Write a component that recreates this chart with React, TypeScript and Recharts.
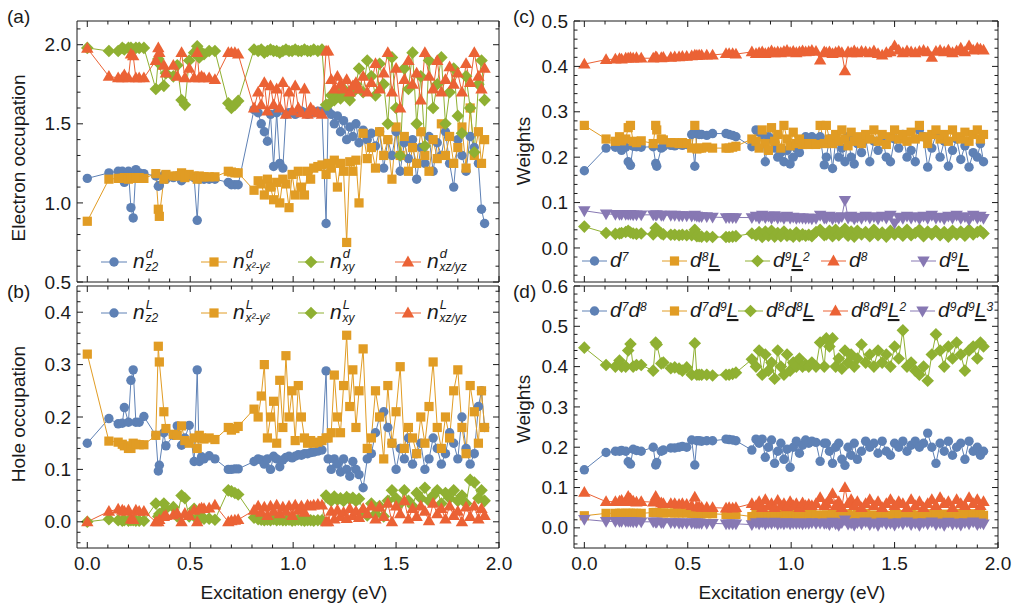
import React from 'react'
import { LineChart, Line, XAxis, YAxis } from 'recharts'

const W = 1014
const H = 608
const FONT = "'Liberation Sans', Arial, Helvetica, sans-serif"
const INK = '#1a1a1a'

const BLUE = '#5E81B5'
const ORANGE = '#E19C24'
const GREEN = '#8FB032'
const RED = '#EB6235'
const PURPLE = '#8778B3'

// excitation energies (eV) of the states, shared by all four panels
const energies = [
  0.0, 0.105, 0.15, 0.17, 0.18, 0.2, 0.212, 0.223, 0.236, 0.252, 0.275, 0.333, 0.345, 0.35, 0.372, 0.382, 0.418, 0.437, 0.458, 0.474, 0.495, 0.519, 0.534, 0.544, 0.555, 0.567, 0.592, 0.62, 0.685, 0.7, 0.717, 0.733,
  0.81, 0.83, 0.845, 0.86, 0.875, 0.89, 0.905, 0.92, 0.935, 0.95, 0.965, 0.98, 0.995, 1.01, 1.025, 1.04, 1.055, 1.07, 1.085, 1.1, 1.12, 1.14, 1.16,
  1.17, 1.185, 1.2, 1.215, 1.23, 1.245, 1.26, 1.275, 1.29, 1.305, 1.32, 1.34, 1.36, 1.38, 1.4, 1.42, 1.44, 1.46, 1.48, 1.5, 1.52, 1.54, 1.56, 1.58, 1.6, 1.62, 1.64, 1.66, 1.68, 1.7, 1.72, 1.74, 1.76, 1.78, 1.8, 1.82, 1.84, 1.86, 1.88, 1.9, 1.915, 1.93,
]

// (a) electron occupation
const nZ2d = [
  1.155, 1.19, 1.2, 1.2, 1.13, 1.2, 0.97, 0.905, 1.21, 1.19, 1.185, 1.17, 1.105, 1.11, 1.175, 1.15, 1.16, 1.17, 1.14, 1.16, 1.17, 1.16, 0.89, 1.15, 1.16, 1.15, 1.15, 1.15, 1.13, 1.115, 1.115, 1.115,
  1.59, 1.57, 1.5, 1.45, 1.39, 1.56, 1.23, 1.57, 1.25, 1.22, 1.56, 1.57, 1.57, 1.56, 1.57, 1.58, 1.57, 1.56, 1.58, 1.57, 1.58, 1.58, 0.87,
  1.58, 1.56, 1.5, 1.55, 1.45, 1.52, 1.4, 1.48, 1.42, 1.5, 1.38, 1.46, 1.4, 1.44, 1.36, 1.45, 1.22, 1.4, 1.3, 1.45, 1.2, 1.38, 1.28, 1.4, 1.15, 1.35, 1.25, 1.42, 1.2, 1.38, 1.3, 1.45, 1.25, 1.1, 1.4, 1.3, 1.2, 1.42, 1.35, 1.25, 0.96, 0.87,
]
const nX2d = [
  0.884, 1.15, 1.155, 1.155, 1.16, 1.15, 1.155, 1.16, 1.155, 1.16, 1.155, 1.185, 0.96, 0.915, 1.15, 1.18, 1.17, 1.17, 1.19, 1.16, 1.18, 1.17, 1.15, 1.17, 1.165, 1.165, 1.165, 1.165, 1.2, 1.195, 1.19, 1.19,
  1.08, 1.14, 1.12, 1.05, 1.15, 1.1, 1.02, 1.13, 1.0, 1.15, 1.12, 0.97, 1.18, 1.05, 1.2, 1.1, 1.05, 1.2, 1.15, 1.22, 1.23, 1.24, 1.18,
  1.25, 1.22, 1.27, 1.1, 1.25, 1.2, 0.75, 1.26, 1.2, 1.27, 1.0, 1.44, 1.28, 1.35, 1.22, 1.45, 1.3, 1.4, 1.15, 1.48, 1.3, 1.42, 1.2, 1.35, 1.25, 1.45, 1.3, 1.2, 1.4, 1.28, 1.5, 1.3, 1.42, 1.25, 1.35, 1.48, 1.22, 1.6, 1.3, 1.45, 1.25, 1.4,
]
const nXYd = [
  1.98, 1.96, 1.96, 1.98, 1.97, 1.98, 1.98, 1.97, 1.98, 1.98, 1.98, 1.72, 1.91, 1.88, 1.74, 1.82, 1.8, 1.87, 1.65, 1.62, 1.9, 1.95, 1.99, 1.92, 1.95, 1.94, 1.96, 1.96, 1.63, 1.6, 1.62, 1.645,
  1.97, 1.96, 1.97, 1.95, 1.96, 1.97, 1.96, 1.96, 1.95, 1.96, 1.97, 1.96, 1.96, 1.97, 1.96, 1.96, 1.97, 1.96, 1.96, 1.97, 1.96, 1.97, 1.62,
  1.62, 1.68, 1.65, 1.7, 1.66, 1.72, 1.68, 1.65, 1.7, 1.75, 1.85, 1.7, 1.9, 1.8, 1.68, 1.88, 1.75, 1.5, 1.92, 1.6, 1.3, 1.85, 1.72, 1.95, 1.5, 1.8, 1.36, 1.9, 1.6, 1.75, 1.92, 1.5, 1.7, 1.85, 1.55, 1.44, 1.8, 1.6, 1.32, 1.75, 1.9, 1.65,
]
const nXZd = [
  1.977, 1.8, 1.79, 1.79, 1.81, 1.79, 1.94, 1.93, 1.79, 1.79, 1.79, 1.9, 1.98, 1.95, 1.87, 1.82, 1.87, 1.8, 1.95, 1.79, 1.85, 1.79, 1.95, 1.79, 1.8, 1.79, 1.79, 1.78, 1.95, 1.95, 1.95, 1.94,
  1.6, 1.7, 1.62, 1.76, 1.58, 1.74, 1.62, 1.72, 1.6, 1.76, 1.56, 1.7, 1.58, 1.74, 1.6, 1.57, 1.72, 1.56, 1.6, 1.58, 1.57, 1.56, 1.96,
  1.96, 1.78, 1.72, 1.8, 1.75, 1.72, 1.78, 1.7, 1.74, 1.76, 1.72, 1.8, 1.7, 1.76, 1.88, 1.72, 1.82, 1.95, 1.7, 1.85, 1.6, 1.78, 1.9, 1.75, 1.82, 1.65, 1.95, 1.8, 1.72, 1.9, 1.7, 1.78, 1.86, 1.75, 1.82, 1.7, 1.88, 1.76, 1.95, 1.8, 1.72, 1.85,
]

// (b) hole occupation
const nZ2L = [
  0.15, 0.197, 0.187, 0.188, 0.218, 0.19, 0.27, 0.29, 0.19, 0.19, 0.201, 0.165, 0.097, 0.108, 0.17, 0.145, 0.165, 0.183, 0.146, 0.16, 0.184, 0.115, 0.29, 0.115, 0.124, 0.12, 0.126, 0.12, 0.1, 0.1, 0.101, 0.101,
  0.115, 0.12, 0.118, 0.11, 0.12, 0.1, 0.125, 0.12, 0.105, 0.118, 0.123, 0.125, 0.122, 0.125, 0.128, 0.127, 0.13, 0.13, 0.132, 0.133, 0.135, 0.137, 0.288,
  0.12, 0.1, 0.12, 0.11, 0.095, 0.12, 0.1, 0.087, 0.115, 0.1, 0.09, 0.065, 0.12, 0.13, 0.17, 0.2, 0.21, 0.18, 0.15, 0.1, 0.14, 0.12, 0.16, 0.11, 0.13, 0.15, 0.1, 0.12, 0.16, 0.14, 0.11, 0.13, 0.17, 0.15, 0.12, 0.2, 0.14, 0.11, 0.13, 0.22, 0.25, 0.18,
]
const nX2L = [
  0.32, 0.154, 0.152, 0.148, 0.145, 0.14, 0.14, 0.15, 0.148, 0.147, 0.147, 0.165, 0.335, 0.305, 0.21, 0.178, 0.167, 0.165, 0.183, 0.155, 0.15, 0.16, 0.14, 0.165, 0.16, 0.158, 0.16, 0.157, 0.18, 0.175, 0.178, 0.182,
  0.215, 0.2, 0.24, 0.3, 0.16, 0.2, 0.23, 0.15, 0.27, 0.18, 0.317, 0.2, 0.25, 0.155, 0.26, 0.2, 0.16, 0.15, 0.155, 0.15, 0.152, 0.155, 0.16,
  0.16, 0.17, 0.28, 0.2, 0.17, 0.26, 0.356, 0.22, 0.29, 0.18, 0.25, 0.33, 0.14, 0.16, 0.25, 0.2, 0.12, 0.26, 0.15, 0.21, 0.296, 0.14, 0.18, 0.16, 0.13, 0.2, 0.15, 0.22, 0.305, 0.18, 0.14, 0.2, 0.16, 0.25, 0.29, 0.18, 0.13, 0.26, 0.21, 0.15, 0.25, 0.18,
]
const nXYL = [
  0.0, 0.005, 0.003, 0.002, 0.003, 0.002, 0.003, 0.003, 0.002, 0.002, 0.002, 0.035, 0.01, 0.015, 0.035, 0.025, 0.028, 0.01, 0.05, 0.045, 0.01, 0.025, 0.005, 0.01, 0.008, 0.006, 0.006, 0.004, 0.06, 0.058, 0.055, 0.052,
  0.008, 0.005, 0.004, 0.003, 0.004, 0.003, 0.005, 0.003, 0.004, 0.003, 0.003, 0.004, 0.002, 0.003, 0.004, 0.003, 0.002, 0.003, 0.003, 0.002, 0.003, 0.003, 0.05,
  0.045, 0.04, 0.048, 0.042, 0.045, 0.04, 0.047, 0.043, 0.046, 0.04, 0.044, 0.02, 0.012, 0.035, 0.015, 0.03, 0.01, 0.04, 0.06, 0.045, 0.035, 0.06, 0.04, 0.03, 0.055, 0.045, 0.065, 0.04, 0.05, 0.06, 0.035, 0.055, 0.045, 0.06, 0.04, 0.05, 0.035, 0.08, 0.075, 0.045, 0.06, 0.04,
]
const nXZL = [
  0.0, 0.02, 0.024, 0.022, 0.02, 0.022, 0.005, 0.004, 0.022, 0.02, 0.02, 0.0, 0.0, 0.004, 0.01, 0.012, 0.013, 0.016, 0.0, 0.016, 0.012, 0.022, 0.0, 0.024, 0.026, 0.025, 0.026, 0.032, 0.0, 0.002, 0.003, 0.004,
  0.022, 0.03, 0.018, 0.028, 0.012, 0.03, 0.02, 0.032, 0.015, 0.028, 0.02, 0.03, 0.012, 0.032, 0.022, 0.03, 0.018, 0.032, 0.03, 0.032, 0.033, 0.032, 0.0,
  0.0, 0.02, 0.005, 0.022, 0.01, 0.018, 0.006, 0.025, 0.012, 0.02, 0.008, 0.025, 0.015, 0.03, 0.005, 0.028, 0.01, 0.035, 0.0, 0.03, 0.015, 0.04, 0.005, 0.025, 0.01, 0.03, 0.02, 0.002, 0.035, 0.015, 0.025, 0.005, 0.03, 0.012, 0.02, 0.0, 0.028, 0.01, 0.03, 0.005, 0.025, 0.012,
]

// (c) single-site weights
const wD7 = [
  0.17, 0.22, 0.222, 0.225, 0.215, 0.222, 0.19, 0.182, 0.224, 0.223, 0.222, 0.223, 0.186, 0.18, 0.22, 0.223, 0.226, 0.225, 0.228, 0.226, 0.228, 0.25, 0.18, 0.252, 0.25, 0.25, 0.248, 0.252, 0.252, 0.25, 0.248, 0.245,
  0.223, 0.26, 0.255, 0.25, 0.19, 0.245, 0.24, 0.22, 0.2, 0.21, 0.19, 0.215, 0.185, 0.2, 0.22, 0.21, 0.23, 0.245, 0.24, 0.245, 0.24, 0.245, 0.183,
  0.2, 0.24, 0.175, 0.235, 0.2, 0.22, 0.19, 0.245, 0.2, 0.185, 0.23, 0.21, 0.24, 0.19, 0.235, 0.215, 0.245, 0.2, 0.19, 0.24, 0.22, 0.25, 0.2, 0.215, 0.19, 0.26, 0.245, 0.178, 0.22, 0.25, 0.2, 0.235, 0.18, 0.215, 0.24, 0.195, 0.225, 0.178, 0.21, 0.2, 0.23, 0.19,
]
const wD8L = [
  0.27, 0.24, 0.235, 0.245, 0.236, 0.24, 0.265, 0.27, 0.235, 0.232, 0.236, 0.23, 0.27, 0.26, 0.24, 0.238, 0.232, 0.232, 0.23, 0.232, 0.23, 0.22, 0.27, 0.218, 0.22, 0.22, 0.222, 0.22, 0.22, 0.22, 0.222, 0.224,
  0.24, 0.235, 0.22, 0.26, 0.23, 0.215, 0.265, 0.235, 0.25, 0.22, 0.27, 0.24, 0.225, 0.255, 0.23, 0.24, 0.228, 0.23, 0.228, 0.23, 0.228, 0.27, 0.23,
  0.27, 0.24, 0.23, 0.25, 0.235, 0.26, 0.24, 0.225, 0.255, 0.235, 0.245, 0.23, 0.25, 0.24, 0.26, 0.235, 0.25, 0.228, 0.245, 0.26, 0.24, 0.25, 0.235, 0.255, 0.24, 0.27, 0.245, 0.23, 0.25, 0.26, 0.24, 0.25, 0.235, 0.26, 0.245, 0.24, 0.255, 0.235, 0.25, 0.26, 0.24, 0.25,
]
const wD9L2 = [
  0.047, 0.033, 0.031, 0.032, 0.033, 0.035, 0.038, 0.034, 0.032, 0.031, 0.032, 0.03, 0.044, 0.038, 0.032, 0.03, 0.029, 0.029, 0.028, 0.029, 0.028, 0.028, 0.04, 0.026, 0.026, 0.025, 0.025, 0.024, 0.024, 0.024, 0.025, 0.026,
  0.032, 0.028, 0.035, 0.024, 0.036, 0.027, 0.038, 0.025, 0.033, 0.026, 0.036, 0.027, 0.03, 0.025, 0.034, 0.026, 0.03, 0.027, 0.029, 0.026, 0.035, 0.04, 0.028,
  0.03, 0.038, 0.026, 0.04, 0.028, 0.035, 0.042, 0.027, 0.036, 0.025, 0.038, 0.03, 0.035, 0.026, 0.04, 0.028, 0.034, 0.025, 0.038, 0.03, 0.036, 0.027, 0.04, 0.028, 0.033, 0.04, 0.026, 0.036, 0.03, 0.038, 0.028, 0.035, 0.025, 0.038, 0.03, 0.036, 0.027, 0.04, 0.03, 0.035, 0.038, 0.032,
]
const wD8 = [
  0.405, 0.415, 0.416, 0.417, 0.416, 0.418, 0.418, 0.419, 0.418, 0.419, 0.418, 0.418, 0.421, 0.42, 0.419, 0.42, 0.42, 0.421, 0.421, 0.422, 0.422, 0.423, 0.425, 0.424, 0.425, 0.425, 0.425, 0.425, 0.428, 0.428, 0.428, 0.427,
  0.432, 0.428, 0.43, 0.432, 0.428, 0.43, 0.434, 0.43, 0.432, 0.43, 0.433, 0.435, 0.431, 0.433, 0.43, 0.432, 0.434, 0.432, 0.433, 0.435, 0.433, 0.414, 0.432,
  0.43, 0.432, 0.428, 0.431, 0.433, 0.43, 0.39, 0.432, 0.43, 0.434, 0.43, 0.433, 0.432, 0.43, 0.434, 0.428, 0.425, 0.43, 0.432, 0.445, 0.436, 0.43, 0.434, 0.432, 0.43, 0.433, 0.435, 0.432, 0.42, 0.433, 0.435, 0.432, 0.436, 0.43, 0.434, 0.44, 0.432, 0.445, 0.436, 0.44, 0.438, 0.436,
]
const wD9L = [
  0.082, 0.075, 0.074, 0.074, 0.074, 0.074, 0.074, 0.074, 0.073, 0.073, 0.073, 0.073, 0.073, 0.073, 0.072, 0.072, 0.072, 0.072, 0.071, 0.071, 0.071, 0.07, 0.072, 0.07, 0.069, 0.069, 0.069, 0.068, 0.067, 0.067, 0.067, 0.067,
  0.067, 0.07, 0.066, 0.072, 0.067, 0.07, 0.065, 0.071, 0.066, 0.069, 0.065, 0.07, 0.066, 0.068, 0.065, 0.067, 0.066, 0.065, 0.066, 0.064, 0.065, 0.072, 0.066,
  0.066, 0.07, 0.064, 0.068, 0.065, 0.069, 0.105, 0.066, 0.07, 0.064, 0.068, 0.065, 0.07, 0.066, 0.069, 0.064, 0.07, 0.066, 0.072, 0.055, 0.068, 0.065, 0.07, 0.066, 0.069, 0.064, 0.07, 0.065, 0.072, 0.066, 0.068, 0.064, 0.07, 0.066, 0.072, 0.065, 0.069, 0.062, 0.072, 0.066, 0.07, 0.065,
]

// (d) two-site weights
const wD7D8 = [
  0.144, 0.187, 0.19, 0.19, 0.192, 0.19, 0.164, 0.158, 0.195, 0.192, 0.19, 0.2, 0.156, 0.162, 0.19, 0.193, 0.198, 0.198, 0.2, 0.202, 0.2, 0.218, 0.156, 0.216, 0.216, 0.215, 0.216, 0.216, 0.22, 0.219, 0.218, 0.216,
  0.193, 0.22, 0.21, 0.22, 0.175, 0.2, 0.218, 0.16, 0.19, 0.21, 0.17, 0.195, 0.15, 0.2, 0.215, 0.185, 0.205, 0.218, 0.21, 0.215, 0.212, 0.165, 0.21,
  0.21, 0.19, 0.16, 0.2, 0.21, 0.17, 0.155, 0.2, 0.18, 0.21, 0.17, 0.19, 0.215, 0.2, 0.21, 0.185, 0.215, 0.19, 0.18, 0.21, 0.2, 0.215, 0.19, 0.205, 0.215, 0.2, 0.21, 0.235, 0.2, 0.16, 0.21, 0.19, 0.215, 0.18, 0.2, 0.21, 0.17, 0.215, 0.19, 0.2, 0.18, 0.19,
]
const wD7D9L = [
  0.03, 0.036, 0.036, 0.036, 0.036, 0.036, 0.036, 0.036, 0.036, 0.036, 0.036, 0.038, 0.038, 0.038, 0.037, 0.037, 0.037, 0.037, 0.037, 0.037, 0.037, 0.036, 0.036, 0.035, 0.035, 0.035, 0.035, 0.035, 0.033, 0.033, 0.033, 0.033,
  0.028, 0.034, 0.03, 0.033, 0.029, 0.032, 0.03, 0.034, 0.029, 0.033, 0.03, 0.032, 0.031, 0.034, 0.03, 0.032, 0.031, 0.033, 0.032, 0.033, 0.032, 0.03, 0.032,
  0.032, 0.028, 0.034, 0.03, 0.026, 0.033, 0.029, 0.035, 0.03, 0.027, 0.033, 0.03, 0.036, 0.028, 0.032, 0.03, 0.035, 0.027, 0.031, 0.034, 0.029, 0.033, 0.03, 0.036, 0.028, 0.032, 0.03, 0.035, 0.027, 0.033, 0.03, 0.034, 0.029, 0.032, 0.036, 0.03, 0.033, 0.028, 0.035, 0.03, 0.033, 0.031,
]
const wD8D8L = [
  0.447, 0.404, 0.4, 0.415, 0.4, 0.4, 0.44, 0.456, 0.4, 0.404, 0.404, 0.39, 0.46, 0.455, 0.408, 0.41, 0.396, 0.398, 0.395, 0.39, 0.398, 0.38, 0.458, 0.38, 0.38, 0.38, 0.38, 0.378, 0.38, 0.38, 0.382, 0.385,
  0.418, 0.4, 0.44, 0.38, 0.43, 0.39, 0.41, 0.37, 0.44, 0.4, 0.38, 0.43, 0.39, 0.41, 0.4, 0.42, 0.4, 0.405, 0.4, 0.41, 0.4, 0.46, 0.4,
  0.47, 0.45, 0.47, 0.4, 0.42, 0.395, 0.44, 0.41, 0.43, 0.4, 0.42, 0.455, 0.41, 0.43, 0.4, 0.44, 0.41, 0.43, 0.4, 0.45, 0.42, 0.49, 0.4, 0.41, 0.39, 0.38, 0.4, 0.365, 0.43, 0.48, 0.44, 0.4, 0.45, 0.42, 0.46, 0.43, 0.39, 0.44, 0.45, 0.42, 0.46, 0.45,
]
const wD8D9L2 = [
  0.088, 0.065, 0.065, 0.066, 0.068, 0.065, 0.078, 0.072, 0.066, 0.064, 0.065, 0.064, 0.078, 0.07, 0.062, 0.06, 0.06, 0.06, 0.058, 0.06, 0.058, 0.055, 0.076, 0.052, 0.052, 0.051, 0.051, 0.05, 0.049, 0.05, 0.049, 0.05,
  0.06, 0.055, 0.065, 0.05, 0.07, 0.055, 0.06, 0.05, 0.068, 0.055, 0.06, 0.052, 0.065, 0.055, 0.06, 0.05, 0.062, 0.055, 0.058, 0.055, 0.06, 0.075, 0.055,
  0.06, 0.07, 0.085, 0.055, 0.065, 0.05, 0.1, 0.06, 0.07, 0.055, 0.065, 0.05, 0.06, 0.07, 0.055, 0.065, 0.05, 0.06, 0.07, 0.055, 0.065, 0.06, 0.05, 0.07, 0.055, 0.065, 0.05, 0.06, 0.07, 0.055, 0.075, 0.06, 0.065, 0.05, 0.07, 0.06, 0.055, 0.075, 0.06, 0.07, 0.055, 0.065,
]
const wD9D9L3 = [
  0.021, 0.016, 0.016, 0.016, 0.016, 0.016, 0.016, 0.016, 0.015, 0.015, 0.015, 0.015, 0.014, 0.014, 0.013, 0.013, 0.013, 0.013, 0.012, 0.012, 0.012, 0.012, 0.012, 0.012, 0.012, 0.011, 0.011, 0.011, 0.01, 0.01, 0.01, 0.01,
  0.008, 0.013, 0.01, 0.014, 0.009, 0.013, 0.011, 0.014, 0.009, 0.012, 0.01, 0.013, 0.01, 0.012, 0.011, 0.012, 0.01, 0.012, 0.011, 0.013, 0.011, 0.012, 0.011,
  0.012, 0.008, 0.014, 0.01, 0.006, 0.013, 0.02, 0.009, 0.012, 0.007, 0.013, 0.01, 0.015, 0.008, 0.012, 0.006, 0.014, 0.01, 0.012, 0.007, 0.013, 0.01, 0.015, 0.008, 0.012, 0.006, 0.013, 0.01, 0.015, 0.008, 0.012, 0.006, 0.014, 0.009, 0.012, 0.007, 0.013, 0.01, 0.015, 0.008, 0.012, 0.01,
]

// tick positions
const xTicks = [0, 0.1, 0.2, 0.3, 0.4, 0.5, 0.6, 0.7, 0.8, 0.9, 1, 1.1, 1.2, 1.3, 1.4, 1.5, 1.6, 1.7, 1.8, 1.9, 2]
const yTicksA = [0.5, 0.6, 0.7, 0.8, 0.9, 1, 1.1, 1.2, 1.3, 1.4, 1.5, 1.6, 1.7, 1.8, 1.9, 2, 2.1]
const yTicksB = [-0.04, -0.02, 0, 0.02, 0.04, 0.06, 0.08, 0.1, 0.12, 0.14, 0.16, 0.18, 0.2, 0.22, 0.24, 0.26, 0.28, 0.3, 0.32, 0.34, 0.36, 0.38, 0.4, 0.42, 0.44]
const yTicksC = [-0.06, -0.04, -0.02, 0, 0.02, 0.04, 0.06, 0.08, 0.1, 0.12, 0.14, 0.16, 0.18, 0.2, 0.22, 0.24, 0.26, 0.28, 0.3, 0.32, 0.34, 0.36, 0.38, 0.4, 0.42, 0.44, 0.46, 0.48, 0.5]
const yTicksD = [-0.04, -0.02, 0, 0.02, 0.04, 0.06, 0.08, 0.1, 0.12, 0.14, 0.16, 0.18, 0.2, 0.22, 0.24, 0.26, 0.28, 0.3, 0.32, 0.34, 0.36, 0.38, 0.4, 0.42, 0.44, 0.46, 0.48, 0.5, 0.52, 0.54, 0.56, 0.58, 0.6]

const rows = energies.map((e, i) => ({
  e,
  nZ2d: nZ2d[i], nX2d: nX2d[i], nXYd: nXYd[i], nXZd: nXZd[i],
  nZ2L: nZ2L[i], nX2L: nX2L[i], nXYL: nXYL[i], nXZL: nXZL[i],
  wD7: wD7[i], wD8L: wD8L[i], wD9L2: wD9L2[i], wD8: wD8[i], wD9L: wD9L[i],
  wD7D8: wD7D8[i], wD7D9L: wD7D9L[i], wD8D8L: wD8D8L[i], wD8D9L2: wD8D9L2[i], wD9D9L3: wD9D9L3[i],
}))

type Shape = 'circle' | 'square' | 'diamond' | 'up' | 'down'

function Marker({ shape, cx, cy, color }: { shape: Shape; cx: number; cy: number; color: string }) {
  if (cx == null || cy == null || isNaN(cx) || isNaN(cy)) return null
  switch (shape) {
    case 'circle':
      return <circle cx={cx} cy={cy} r={4.7} fill={color} />
    case 'square':
      return <rect x={cx - 4.6} y={cy - 4.6} width={9.2} height={9.2} fill={color} />
    case 'diamond':
      return <polygon points={`${cx},${cy - 6.3} ${cx + 6.3},${cy} ${cx},${cy + 6.3} ${cx - 6.3},${cy}`} fill={color} />
    case 'up':
      return <polygon points={`${cx},${cy - 6.4} ${cx + 6.2},${cy + 4.4} ${cx - 6.2},${cy + 4.4}`} fill={color} />
    default:
      return <polygon points={`${cx},${cy + 6.4} ${cx + 6.2},${cy - 4.4} ${cx - 6.2},${cy - 4.4}`} fill={color} />
  }
}

type Side = 'left' | 'right' | 'top' | 'bottom'

const tickRenderer = (side: Side, step: number, labels: boolean) => (p: any) => {
  const v = Number(p.payload?.value)
  const major = Math.abs(v / step - Math.round(v / step)) < 1e-6
  const len = major ? 6 : 3.5
  const { x, y } = p
  let x2 = x
  let y2 = y
  if (side === 'left') x2 = x + len
  if (side === 'right') x2 = x - len
  if (side === 'top') y2 = y + len
  if (side === 'bottom') y2 = y - len
  return (
    <g>
      <line x1={x} y1={y} x2={x2} y2={y2} stroke={INK} strokeWidth={1} />
      {labels && major && side === 'left' && (
        <text x={x - 6} y={y} dy="0.35em" textAnchor="end" fontSize={19} fontFamily={FONT} fill={INK}>
          {v.toFixed(1)}
        </text>
      )}
      {labels && major && side === 'bottom' && (
        <text x={x} y={y + 22} textAnchor="middle" fontSize={19} fontFamily={FONT} fill={INK}>
          {v.toFixed(1)}
        </text>
      )}
    </g>
  )
}

type SeriesDef = { key: string; color: string; shape: Shape }

function Panel({ box, yDomain, yTicks, yStep, xLabels, series }: {
  box: { left: number; top: number; right: number; bottom: number }
  yDomain: [number, number]
  yTicks: number[]
  yStep: number
  xLabels: boolean
  series: SeriesDef[]
}) {
  return (
    <div style={{ position: 'absolute', left: 0, top: 0 }}>
      <LineChart
        width={W}
        height={H}
        data={rows}
        margin={{ left: box.left - 1, top: box.top - 1, right: W - box.right - 1, bottom: H - box.bottom - 1 }}
      >
        <XAxis xAxisId={0} dataKey="e" type="number" domain={[-0.05, 2]} ticks={xTicks} interval={0}
          allowDataOverflow height={1} tickSize={0} tickMargin={0} tickLine={false}
          axisLine={{ stroke: INK }} tick={tickRenderer('bottom', 0.5, xLabels)} />
        <XAxis xAxisId="top" orientation="top" dataKey="e" type="number" domain={[-0.05, 2]} ticks={xTicks} interval={0}
          allowDataOverflow height={1} tickSize={0} tickMargin={0} tickLine={false}
          axisLine={{ stroke: INK }} tick={tickRenderer('top', 0.5, false)} />
        <YAxis yAxisId={0} type="number" domain={yDomain} ticks={yTicks} interval={0}
          allowDataOverflow width={1} tickSize={0} tickMargin={0} tickLine={false}
          axisLine={{ stroke: INK }} tick={tickRenderer('left', yStep, true)} />
        <YAxis yAxisId="right" orientation="right" type="number" domain={yDomain} ticks={yTicks} interval={0}
          allowDataOverflow width={1} tickSize={0} tickMargin={0} tickLine={false}
          axisLine={{ stroke: INK }} tick={tickRenderer('right', yStep, false)} />
        {series.map((s) => (
          <Line
            key={s.key}
            dataKey={s.key}
            type="linear"
            stroke={s.color}
            strokeWidth={1}
            activeDot={false}
            isAnimationActive={false}
            dot={(p: any) => <Marker key={`${s.key}-${p.index}`} shape={s.shape} cx={p.cx} cy={p.cy} color={s.color} />}
          />
        ))}
      </LineChart>
    </div>
  )
}

const seriesA: SeriesDef[] = [
  { key: 'nZ2d', color: BLUE, shape: 'circle' },
  { key: 'nX2d', color: ORANGE, shape: 'square' },
  { key: 'nXYd', color: GREEN, shape: 'diamond' },
  { key: 'nXZd', color: RED, shape: 'up' },
]
const seriesB: SeriesDef[] = [
  { key: 'nZ2L', color: BLUE, shape: 'circle' },
  { key: 'nX2L', color: ORANGE, shape: 'square' },
  { key: 'nXYL', color: GREEN, shape: 'diamond' },
  { key: 'nXZL', color: RED, shape: 'up' },
]
const seriesC: SeriesDef[] = [
  { key: 'wD7', color: BLUE, shape: 'circle' },
  { key: 'wD8L', color: ORANGE, shape: 'square' },
  { key: 'wD9L2', color: GREEN, shape: 'diamond' },
  { key: 'wD8', color: RED, shape: 'up' },
  { key: 'wD9L', color: PURPLE, shape: 'down' },
]
const seriesD: SeriesDef[] = [
  { key: 'wD7D8', color: BLUE, shape: 'circle' },
  { key: 'wD7D9L', color: ORANGE, shape: 'square' },
  { key: 'wD8D8L', color: GREEN, shape: 'diamond' },
  { key: 'wD8D9L2', color: RED, shape: 'up' },
  { key: 'wD9D9L3', color: PURPLE, shape: 'down' },
]

function NLabel({ x, y, sup, sub }: { x: number; y: number; sup: string; sub: string }) {
  return (
    <text x={x} y={y} fontFamily={FONT} fontStyle="italic" fontSize={21} fill={INK}>
      n
      <tspan fontSize={13} dx={1} dy={-10}>{sup}</tspan>
      <tspan fontSize={12} dx={-7.5} dy={13}>{sub}</tspan>
    </text>
  )
}

type Part = { t: string; sup?: boolean; u?: boolean }

function DLabel({ x, y, parts }: { x: number; y: number; parts: Part[] }) {
  let lvl = 0
  return (
    <text x={x} y={y} fontFamily={FONT} fontStyle="italic" fontSize={21} fill={INK}>
      {parts.map((p, i) => {
        const target = p.sup ? -6 : 0
        const dy = target - lvl
        lvl = target
        return (
          <tspan key={i} dy={dy} fontSize={p.sup ? 12 : 21} style={p.u ? { textDecoration: 'underline' } : undefined}>
            {p.t}
          </tspan>
        )
      })}
    </text>
  )
}

function Key({ x, y, color, shape, len = 26 }: { x: number; y: number; color: string; shape: Shape; len?: number }) {
  return (
    <g>
      <line x1={x} y1={y} x2={x + len} y2={y} stroke={color} strokeWidth={1} />
      <Marker shape={shape} cx={x + len / 2} cy={y} color={color} />
    </g>
  )
}

function Overlay() {
  const leftKeys = [101, 201, 298, 395]
  const subs = ['z2', 'x\u00b2-y\u00b2', 'xy', 'xz/yz']
  const colsAB: [string, Shape][] = [[BLUE, 'circle'], [ORANGE, 'square'], [GREEN, 'diamond'], [RED, 'up']]
  const colsCD: [string, Shape][] = [[BLUE, 'circle'], [ORANGE, 'square'], [GREEN, 'diamond'], [RED, 'up'], [PURPLE, 'down']]
  const keysC = [582, 662, 745, 821, 911]
  const keysD = [582, 662, 738, 823, 910]
  const labelsC: Part[][] = [
    [{ t: 'd' }, { t: '7', sup: true }],
    [{ t: 'd' }, { t: '8', sup: true }, { t: 'L', u: true }],
    [{ t: 'd' }, { t: '9', sup: true }, { t: 'L', u: true }, { t: '2', sup: true }],
    [{ t: 'd' }, { t: '8', sup: true }],
    [{ t: 'd' }, { t: '9', sup: true }, { t: 'L', u: true }],
  ]
  const labelsD: Part[][] = [
    [{ t: 'd' }, { t: '7', sup: true }, { t: 'd' }, { t: '8', sup: true }],
    [{ t: 'd' }, { t: '7', sup: true }, { t: 'd' }, { t: '9', sup: true }, { t: 'L', u: true }],
    [{ t: 'd' }, { t: '8', sup: true }, { t: 'd' }, { t: '8', sup: true }, { t: 'L', u: true }],
    [{ t: 'd' }, { t: '8', sup: true }, { t: 'd' }, { t: '9', sup: true }, { t: 'L', u: true }, { t: '2', sup: true }],
    [{ t: 'd' }, { t: '9', sup: true }, { t: 'd' }, { t: '9', sup: true }, { t: 'L', u: true }, { t: '3', sup: true }],
  ]
  return (
    <svg width={W} height={H} style={{ position: 'absolute', left: 0, top: 0, pointerEvents: 'none' }}>
      <g fontFamily={FONT} fontSize={19} fill={INK}>
        <text x={7} y={23}>(a)</text>
        <text x={7} y={298}>(b)</text>
        <text x={513} y={23}>(c)</text>
        <text x={513} y={298}>(d)</text>
        <text x={294} y={599} textAnchor="middle">Excitation energy (eV)</text>
        <text x={792} y={599} textAnchor="middle">Excitation energy (eV)</text>
        <text transform="translate(25,158) rotate(-90)" textAnchor="middle">Electron occupation</text>
        <text transform="translate(25,414) rotate(-90)" textAnchor="middle">Hole occupation</text>
        <text transform="translate(530,151) rotate(-90)" textAnchor="middle">Weights</text>
        <text transform="translate(530,409) rotate(-90)" textAnchor="middle">Weights</text>
      </g>
      {leftKeys.map((x, i) => (
        <g key={`a${i}`}>
          <Key x={x} y={262} color={colsAB[i][0]} shape={colsAB[i][1]} />
          <NLabel x={x + 32} y={268} sup="d" sub={subs[i]} />
        </g>
      ))}
      {leftKeys.map((x, i) => (
        <g key={`b${i}`}>
          <Key x={x} y={313} color={colsAB[i][0]} shape={colsAB[i][1]} />
          <NLabel x={x + 32} y={319} sup="L" sub={subs[i]} />
        </g>
      ))}
      {keysC.map((x, i) => (
        <g key={`c${i}`}>
          <Key x={x} y={261} color={colsCD[i][0]} shape={colsCD[i][1]} len={25} />
          <DLabel x={x + 28} y={267} parts={labelsC[i]} />
        </g>
      ))}
      {keysD.map((x, i) => (
        <g key={`d${i}`}>
          <Key x={x} y={311} color={colsCD[i][0]} shape={colsCD[i][1]} len={25} />
          <DLabel x={x + 28} y={317} parts={labelsD[i]} />
        </g>
      ))}
    </svg>
  )
}

export default function App() {
  return (
    <div style={{ position: 'absolute', left: 0, top: 0, width: W, height: H, background: '#fff', fontFamily: FONT }}>
      <Panel box={{ left: 77, top: 21, right: 499, bottom: 282 }} yDomain={[0.5, 2.15]} yTicks={yTicksA} yStep={0.5} xLabels={false} series={seriesA} />
      <Panel box={{ left: 77, top: 286, right: 499, bottom: 548 }} yDomain={[-0.05, 0.45]} yTicks={yTicksB} yStep={0.1} xLabels series={seriesB} />
      <Panel box={{ left: 574, top: 21, right: 998, bottom: 282 }} yDomain={[-0.075, 0.5]} yTicks={yTicksC} yStep={0.1} xLabels={false} series={seriesC} />
      <Panel box={{ left: 574, top: 286, right: 998, bottom: 548 }} yDomain={[-0.05, 0.6]} yTicks={yTicksD} yStep={0.1} xLabels series={seriesD} />
      <Overlay />
    </div>
  )
}
